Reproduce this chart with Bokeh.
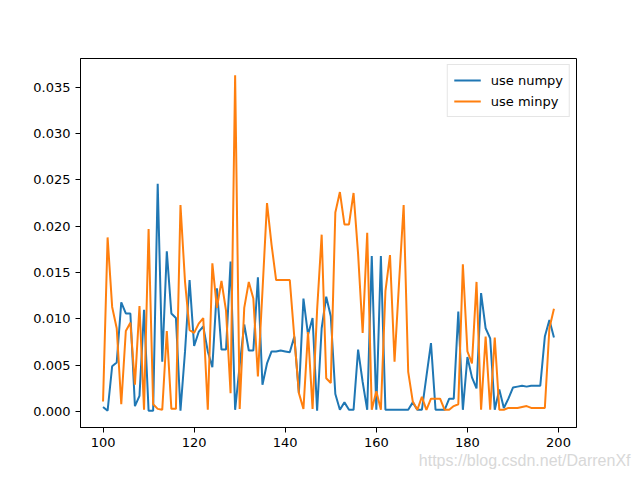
from bokeh.plotting import figure
from bokeh.models import Range1d, NumeralTickFormatter, FixedTicker, Legend, LegendItem, Title
from bokeh.embed import file_html
from bokeh.resources import INLINE

x_vals = list(range(100, 200))

numpy_times = [
    0.0005, 0.0001, 0.0049, 0.0053, 0.0118, 0.0106, 0.0106, 0.0006, 0.0017, 0.0110,
    0.0001, 0.0001, 0.0246, 0.0054, 0.0173, 0.0106, 0.0101, 0.0001, 0.0065, 0.0142,
    0.0071, 0.0086, 0.0092, 0.0065, 0.0048, 0.0133, 0.0067, 0.0067, 0.0162, 0.0002,
    0.0050, 0.0094, 0.0066, 0.0066, 0.0145, 0.0029, 0.0052, 0.0065, 0.0065, 0.0066,
    0.0065, 0.0064, 0.0081, 0.0020, 0.0122, 0.0083, 0.0101, 0.0001, 0.0090, 0.0124,
    0.0103, 0.0019, 0.0002, 0.0010, 0.0002, 0.0002, 0.0067, 0.0032, 0.0002, 0.0168,
    0.0002, 0.0168, 0.0002, 0.0002, 0.0002, 0.0002, 0.0002, 0.0002, 0.0010, 0.0002,
    0.0002, 0.0038, 0.0074, 0.0002, 0.0002, 0.0002, 0.0014, 0.0014, 0.0108, 0.0002,
    0.0059, 0.0037, 0.0025, 0.0128, 0.0090, 0.0079, 0.0002, 0.0024, 0.0004, 0.0014,
    0.0026, 0.0027, 0.0028, 0.0027, 0.0028, 0.0028, 0.0028, 0.0081, 0.0099, 0.0080,
]

minpy_times = [
    0.0011, 0.0188, 0.0113, 0.0090, 0.0008, 0.0087, 0.0096, 0.0029, 0.0114, 0.0002,
    0.0197, 0.0008, 0.0003, 0.0002, 0.0087, 0.0003, 0.0003, 0.0223, 0.0140, 0.0088,
    0.0085, 0.0095, 0.0101, 0.0002, 0.0160, 0.0112, 0.0141, 0.0109, 0.0020, 0.0363,
    0.0003, 0.0112, 0.0140, 0.0122, 0.0038, 0.0130, 0.0225, 0.0180, 0.0142, 0.0142,
    0.0142, 0.0142, 0.0080, 0.0020, 0.0003, 0.0086, 0.0003, 0.0110, 0.0191, 0.0036,
    0.0031, 0.0215, 0.0237, 0.0202, 0.0202, 0.0236, 0.0170, 0.0085, 0.0193, 0.0002,
    0.0022, 0.0002, 0.0130, 0.0169, 0.0054, 0.0140, 0.0223, 0.0043, 0.0011, 0.0002,
    0.0016, 0.0002, 0.0014, 0.0014, 0.0014, 0.0002, 0.0002, 0.0006, 0.0008, 0.0159,
    0.0065, 0.0052, 0.0140, 0.0002, 0.0081, 0.0002, 0.0080, 0.0002, 0.0002, 0.0004,
    0.0004, 0.0004, 0.0005, 0.0006, 0.0004, 0.0004, 0.0004, 0.0004, 0.0090, 0.0111,
]

x_ticks = [100, 120, 140, 160, 180, 200]
y_ticks = [0.0, 0.005, 0.010, 0.015, 0.020, 0.025, 0.030, 0.035]
series_labels = ["use numpy", "use minpy"]
watermark = "https://blog.csdn.net/DarrenXf"

# matplotlib-like auto margins (5%)
xmin, xmax = min(x_vals), max(x_vals)
ally = numpy_times + minpy_times
ymin, ymax = min(ally), max(ally)
xpad = (xmax - xmin) * 0.05
ypad = (ymax - ymin) * 0.05

p = figure(width=640, height=480, output_backend="svg", toolbar_location=None,
           x_range=Range1d(xmin - xpad, xmax + xpad),
           y_range=Range1d(ymin - ypad, ymax + ypad),
           min_border_left=80, min_border_right=64, min_border_top=58, min_border_bottom=53)

p.background_fill_color = "white"
p.border_fill_color = "white"
p.outline_line_color = "black"
p.outline_line_width = 1
p.xgrid.visible = False
p.ygrid.visible = False

FONT = "DejaVu Sans"
for ax in (p.xaxis[0], p.yaxis[0]):
    ax.axis_line_color = "black"
    ax.major_tick_line_color = "black"
    ax.major_tick_out = 5
    ax.major_tick_in = 0
    ax.minor_tick_out = 0
    ax.minor_tick_in = 0
    ax.major_label_text_font = FONT
    ax.major_label_text_font_size = "13px"
    ax.major_label_text_color = "black"
    ax.major_label_standoff = 5

p.xaxis[0].ticker = FixedTicker(ticks=x_ticks)
p.yaxis[0].ticker = FixedTicker(ticks=y_ticks)
p.yaxis[0].formatter = NumeralTickFormatter(format="0.000")

r1 = p.line(x_vals, numpy_times, line_color="#1f77b4", line_width=2)
r2 = p.line(x_vals, minpy_times, line_color="#ff7f0e", line_width=2)

legend = Legend(items=[LegendItem(label=series_labels[0], renderers=[r1]),
                       LegendItem(label=series_labels[1], renderers=[r2])],
                location="top_right")
legend.label_text_font = FONT
legend.label_text_font_size = "13px"
legend.label_text_color = "black"
legend.border_line_color = "#cccccc"
legend.border_line_width = 1
legend.background_fill_alpha = 0.8
legend.glyph_width = 27
legend.glyph_height = 18
legend.label_height = 18
legend.label_standoff = 10
legend.spacing = 3
legend.padding = 6
legend.margin = 6
p.add_layout(legend)

wm = Title(text=watermark, align="right", offset=-54, standoff=0,
           text_font="Liberation Sans", text_font_size="16px",
           text_font_style="normal", text_color="#d8d8d8")
p.add_layout(wm, "below")

open("out.html", "w").write(file_html(p, INLINE))
